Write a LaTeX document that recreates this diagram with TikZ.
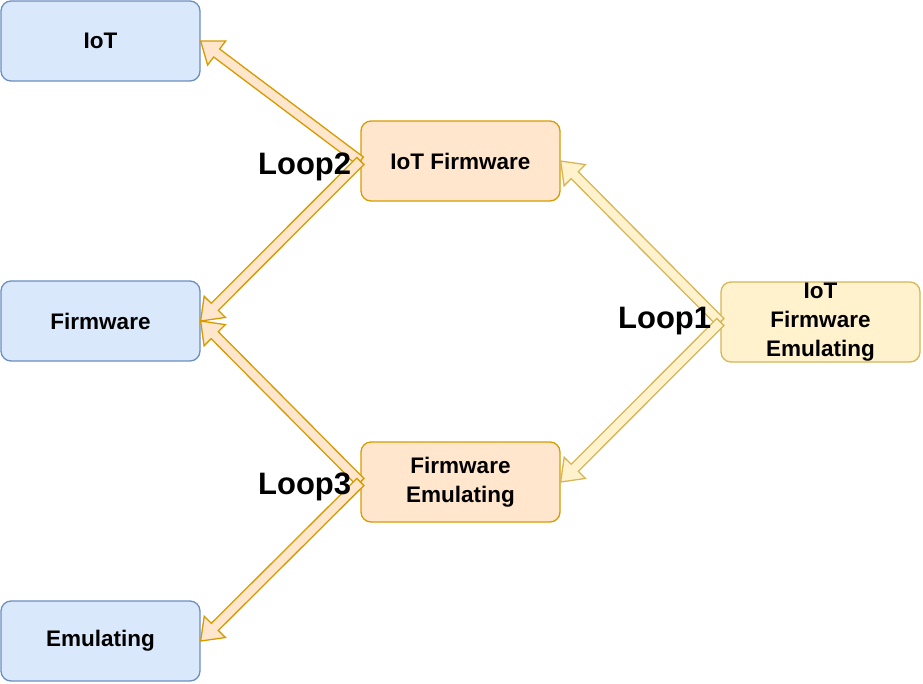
\documentclass[tikz,border=0pt]{standalone}
\usepackage{fontspec}
\setmainfont{Liberation Sans}
\usetikzlibrary{calc,positioning}
\definecolor{blueFill}{HTML}{DAE8FC}
\definecolor{blueLine}{HTML}{6C8EBF}
\definecolor{orangeFill}{HTML}{FFE6CC}
\definecolor{orangeLine}{HTML}{D79B00}
\definecolor{yellowFill}{HTML}{FFF2CC}
\definecolor{yellowLine}{HTML}{D6B656}

\begin{document}
\begin{tikzpicture}[
		x=1pt, y=-1pt,
		font=\bfseries\fontsize{22.5}{29}\selectfont,
		topic/.style={
			rectangle,
			rounded corners=10pt,
			line width=1.3pt,
			minimum width=199pt,
			minimum height=80pt,
			inner sep=0pt,
			align=center
		},
		single/.style={topic, draw=blueLine, fill=blueFill},
		pair/.style={topic, draw=orangeLine, fill=orangeFill},
		triple/.style={topic, draw=yellowLine, fill=yellowFill},
		looptext/.style={
			font=\bfseries\fontsize{31}{36}\selectfont,
			inner sep=0pt
		},
		flexarrow/.style={
			line width=1.3pt,
			line join=miter,
			to path={
				($(\tikztostart)!5pt!90:(\tikztotarget)$)
				-- ($(\tikztotarget)!20pt!(\tikztostart)!5pt!90:(\tikztotarget)$)
				-- ($(\tikztotarget)!20pt!(\tikztostart)!15pt!90:(\tikztotarget)$)
				-- (\tikztotarget)
				-- ($(\tikztotarget)!20pt!(\tikztostart)!15pt!-90:(\tikztotarget)$)
				-- ($(\tikztotarget)!20pt!(\tikztostart)!5pt!-90:(\tikztotarget)$)
				-- ($(\tikztostart)!5pt!-90:(\tikztotarget)$)
				-- cycle
			}
		},
		flexorange/.style={flexarrow, draw=orangeLine, fill=orangeFill},
		flexyellow/.style={flexarrow, draw=yellowLine, fill=yellowFill}
		]
		\useasboundingbox (0,0) rectangle (923,683);
		
		% single words on the left
		\node [single] (iot) at (100.5,41) {IoT};
		\node [single] (fw) at (100.5,321) {Firmware};
		\node [single] (emu) at (100.5,641) {Emulating};
		
		% pairs in the middle
		\node [pair] (iotfw) at (460.5,161) {IoT Firmware};
		\node [pair] (fwemu) at (460.5,482) {Firmware\\Emulating};
		
		% all three on the right
		\node [triple] (iotfwemu) at (820.5,322) {IoT\\Firmware\\Emulating};
		
		% the arrows
		\draw [flexyellow] (iotfwemu.west) to (iotfw.east);
		\draw [flexyellow] (iotfwemu.west) to (fwemu.east);
		\draw [flexorange] (iotfw.west) to (iot.east);
		\draw [flexorange] (iotfw.west) to (fw.east);
		\draw [flexorange] (fwemu.west) to (fw.east);
		\draw [flexorange] (fwemu.west) to (emu.east);
		
		% the loop labels
		\node [looptext, anchor=base east] (loop1) at ([xshift=-9pt, yshift=-6pt]iotfwemu.west) {Loop1};
		\node [looptext, anchor=base east] (loop2) at ([xshift=-9pt, yshift=-13pt]iotfw.west) {Loop2};
		\node [looptext, anchor=base east] (loop3) at ([xshift=-9pt, yshift=-12pt]fwemu.west) {Loop3};
		
	\end{tikzpicture}
\end{document}
